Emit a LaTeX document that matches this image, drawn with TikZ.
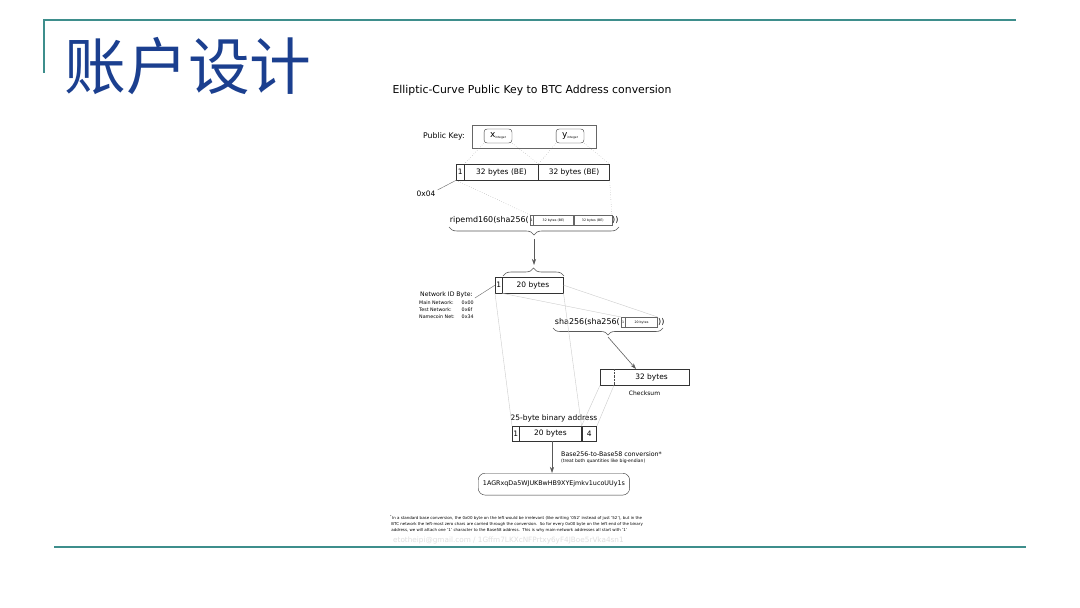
\documentclass[tikz,border=0pt]{standalone}
\usepackage{fontspec}
\setmainfont{DejaVu Sans}
\newfontfamily\cjk{Noto Sans CJK SC}
\usetikzlibrary{positioning,arrows.meta,decorations.pathreplacing}
\definecolor{slideteal}{HTML}{3E8E8C}
\definecolor{titleblue}{HTML}{1B3F8F}
\newcommand{\setfs}[1]{\fontsize{#1}{#1}\selectfont}
\begin{document}
\begin{tikzpicture}[
  x=1bp, y=-1bp,
  cell/.style={draw=black!80, minimum height=16, inner sep=0, font=\setfs{7.5}},
  mini/.style={draw=black!60, minimum height=10, inner sep=0, font=\setfs{3.2}},
  coord/.style={draw=black!80, rounded corners=3, minimum width=28, minimum height=14, inner sep=0},
  label/.style={inner sep=0, font=\setfs{7.5}},
  hint/.style={black!45, dotted, line width=0.4},
  faint/.style={black!20, line width=0.4},
  flow/.style={-{Stealth[length=6, width=4]}, black!65, line width=0.6},
  curly/.style={decorate, decoration={brace, mirror, amplitude=8}, black!65, line width=0.6},
  rule/.style={slideteal, line width=1.6}
]
\useasboundingbox[fill=white] (0,0) rectangle (1080,608);
% slide frame
\draw[rule] (44,73) -- (44,20) -- (1016,20);
\draw[rule, line width=2] (54,547) -- (1026,547);
\node[text=titleblue, font=\cjk\setfs{62}, inner sep=0] (title) at (188,66) {账户设计};

\node[label, font=\setfs{10.9}] (head) at (532,91) {Elliptic-Curve Public Key to BTC Address conversion};

% public key
\node[draw=black!60, minimum width=124, minimum height=23, inner sep=0] (pk) at (534,136.5) {};
\node[label, anchor=east, font=\setfs{7.8}] (pklab) at (465,136) {Public Key:};
\node[coord] (px) at (498,136) {\setfs{9}x\raisebox{-1.2pt}{\setfs{3}integer}};
\node[coord] (py) at (570,136) {\setfs{9}y\raisebox{-1.2pt}{\setfs{3}integer}};

% 65-byte key
\node[cell, minimum width=8, anchor=north west] (k1) at (456,164) {1};
\node[cell, minimum width=74, right=0pt of k1] (kx) {32 bytes (BE)};
\node[cell, minimum width=71, right=0pt of kx] (ky) {32 bytes (BE)};
\node[label] (pre) at (426,194) {0x04};
\draw[hint] (px.south west) -- (k1.north east);
\draw[hint] (px.south east) -- (kx.north east);
\draw[hint] (py.south west) -- (kx.north east);
\draw[hint] (py.south east) -- (ky.north east);
\draw[black!60, line width=0.4] (pre.north east) ++(2,-1) -- (k1.south west);

% hash160
\node[label, anchor=east, font=\setfs{8}] (rip) at (529,220) {ripemd160(sha256(};
\node[mini, minimum width=3, anchor=north west] (r1) at (530,215) {1};
\node[mini, minimum width=40, right=0pt of r1] (rx) {32 bytes (BE)};
\node[mini, minimum width=38, right=0pt of rx] (ry) {32 bytes (BE)};
\node[label, anchor=west, font=\setfs{8}] (ripend) at (612,220) {))};
\draw[hint] (k1.south west) -- (r1.north west);
\draw[hint] (ky.south east) -- (ry.north east);
\draw[curly] (449,227) -- (619,227);
\coordinate (bt) at (534,239);
\coordinate (bu) at (534,265);
\draw[flow] (bt) -- (bu);

% 21 bytes
\node[cell, minimum width=7, anchor=north west] (h1) at (495,277) {1};
\node[cell, minimum width=61, right=0pt of h1] (h20) {20 bytes};
\draw[curly] (564,276) -- (503,276);
\node[label, anchor=south west, font=\setfs{6.2}] (net) at (420,298) {Network ID Byte:};
\node[anchor=north west, inner sep=0, font=\fontsize{4.8}{7}\selectfont] (nets) at (419,299)
  {\begin{tabular}{@{}l@{\hspace{7pt}}l@{}}
   Main Network: & 0x00\\
   Test Network: & 0x6f\\
   Namecoin Net: & 0x34
   \end{tabular}};
\draw[black!60, line width=0.4] (net.south east) ++(2,0) -- (h1.west);

% checksum
\node[label, anchor=east, font=\setfs{8}] (dsha) at (620,322) {sha256(sha256(};
\node[mini, minimum width=4, anchor=north west] (s1) at (621,317) {1};
\node[mini, minimum width=32, right=0pt of s1] (s20) {20 bytes};
\node[label, anchor=west, font=\setfs{8}] (dend) at (658,322) {))};
\draw[faint] (h20.south west) -- (s1.north west);
\draw[faint] (h20.east) -- (s20.north east);
\draw[curly, decoration={amplitude=7}] (553,328) -- (663,328);
\coordinate (ct) at (608,337);
\node[draw=black!80, minimum width=89, minimum height=16, inner sep=0, font=\setfs{7.5}, anchor=north west] (chk) at (600,369) {\hspace{14pt}32 bytes};
\draw[black!70, densely dotted] ([xshift=14]chk.north west) -- ([xshift=14]chk.south west);
\draw[flow] (ct) -- (chk.north west -| 636,0);
\node[label, font=\setfs{6}, below=5pt of chk] (chklab) {Checksum};

% 25-byte address
\node[label, font=\setfs{7.5}] (addrlab) at (554,418) {25-byte binary address};
\node[cell, minimum width=7, minimum height=15, anchor=north west] (a1) at (512,426) {1};
\node[cell, minimum width=62, minimum height=15, right=0pt of a1] (a20) {20 bytes};
\node[cell, minimum width=15, minimum height=15, right=0pt of a20] (a4) {4};
\draw[faint] (h1.south west) -- (a1.north west);
\draw[faint] (h20.south east) -- (a20.north east);
\draw[faint] (chk.south west) -- (a20.north east);
\draw[faint] ([xshift=14]chk.south west) -- (a4.north east);

% base58
\node[draw=black!80, rounded corners=7, minimum width=152, minimum height=22, inner sep=0, font=\setfs{6.4}, anchor=north west] (b58) at (478,473) {1AGRxqDa5WJUKBwHB9XYEjmkv1ucoUUy1s};
\draw[flow] (a20.south -| 552,0) -- (b58.north -| 552,0);
\node[label, anchor=west, font=\setfs{6.3}] (conv) at (561,454) {Base256-to-Base58 conversion*};
\node[label, anchor=north west, font=\setfs{4.5}] (convnote) at (561,459) {(treat both quantities like big-endian)};

% footnote
\node[anchor=north west, inner sep=0, align=left, font=\fontsize{4}{6}\selectfont] (foot) at (390,515)
  {\textsuperscript{*}In a standard base conversion, the 0x00 byte on the left would be irrelevant (like writing '052' instead of just '52'), but in the\\
   \ BTC network the left-most zero chars are carried through the conversion.\ \ So for every 0x00 byte on the left end of the binary\\
   \ address, we will attach one '1' character to the Base58 address.\ \ This is why main-network addresses all start with '1'};
\node[label, text=black!13, font=\setfs{7.3}, anchor=west] (mark) at (393,540) {etotheipi@gmail.com / 1Gffm7LKXcNFPrtxy6yF4JBoe5rVka4sn1};
\end{tikzpicture}
\end{document}
